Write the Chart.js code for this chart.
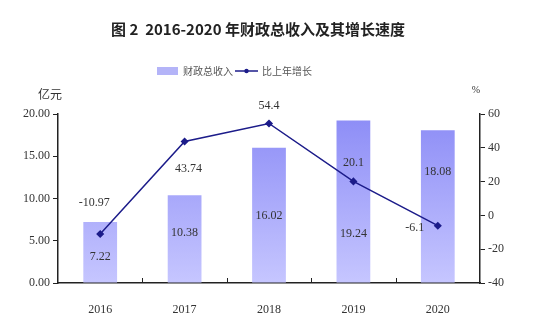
<!DOCTYPE html>
<html lang="zh">
<head>
  <meta charset="UTF-8" />
  <title>财政总收入及其增长速度</title>
  <script src="https://cdn.jsdelivr.net/npm/chart.js"></script>
  <style>
    body { margin: 0; background: #fff; }
    .wrap { position: relative; width: 533px; height: 333px; }
  </style>
</head>
<body>
  <div class="wrap"><canvas id="chart"></canvas></div>

  <script>
    const years = ['2016', '2017', '2018', '2019', '2020'];
    const revenue = [7.22, 10.38, 16.02, 19.24, 18.08];   // 亿元
    const growth = [-10.97, 43.74, 54.4, 20.1, -6.1];     // %

    const numFont = '"Liberation Serif", "DejaVu Serif", serif';
    const cjkFont = '"Noto Sans CJK SC", sans-serif';

    // label offsets (px) so the numbers sit like the original
    const barLabelDy = [35, 38, 68, 113, 42];
    const lineLabelOff = [[-6, -31], [4, 27], [0, -18], [0, -19], [-23, 2]];

    const decor = {
      id: 'decor',
      afterDraw(chart) {
        const c = chart.ctx;
        const area = chart.chartArea;
        c.save();

        // title
        c.fillStyle = '#222';
        c.font = 'bold 15px ' + cjkFont;
        c.textAlign = 'center';
        c.textBaseline = 'middle';
        c.fillText('图 2  2016-2020 年财政总收入及其增长速度', 258, 29);

        // legend
        c.fillStyle = '#b4b4f8';
        c.fillRect(157, 67, 21, 8);
        c.font = '10px ' + cjkFont;
        c.fillStyle = '#555';
        c.textAlign = 'left';
        c.fillText('财政总收入', 183, 71);
        c.strokeStyle = '#1c1c8a';
        c.lineWidth = 1.5;
        c.beginPath(); c.moveTo(235, 71); c.lineTo(258, 71); c.stroke();
        c.fillStyle = '#1c1c8a';
        c.beginPath(); c.arc(246.5, 71, 2.2, 0, Math.PI * 2); c.fill();
        c.fillStyle = '#555';
        c.fillText('比上年增长', 262, 71);

        // axis titles
        c.fillStyle = '#333';
        c.font = '12px ' + cjkFont;
        c.textAlign = 'center';
        c.fillText('亿元', 50, 94);
        c.font = '10px ' + numFont;
        c.fillText('%', 476, 90);

        // small ticks between categories on the x axis
        const x = chart.scales.x;
        c.strokeStyle = '#222';
        c.lineWidth = 1;
        for (let i = 0; i < years.length - 1; i++) {
          const px = Math.round((x.getPixelForTick(i) + x.getPixelForTick(i + 1)) / 2) + 0.5;
          c.beginPath(); c.moveTo(px, area.bottom); c.lineTo(px, area.bottom - 5); c.stroke();
        }

        // data labels
        c.font = '12px ' + numFont;
        c.fillStyle = '#333';
        c.textAlign = 'center';
        const bars = chart.getDatasetMeta(0).data;
        bars.forEach((b, i) => {
          c.fillText(revenue[i].toFixed(2), b.x, b.y + barLabelDy[i]);
        });
        const pts = chart.getDatasetMeta(1).data;
        pts.forEach((p, i) => {
          c.fillText(String(growth[i]), p.x + lineLabelOff[i][0], p.y + lineLabelOff[i][1]);
        });
        c.restore();
      }
    };

    function barGradient(ctx) {
      const area = ctx.chart.chartArea;
      if (!area) return '#aaaafc';
      const g = ctx.chart.ctx.createLinearGradient(0, area.top, 0, area.bottom);
      g.addColorStop(0, '#8c8cf6');
      g.addColorStop(1, '#c6c6ff');
      return g;
    }

    new Chart(document.getElementById('chart'), {
      data: {
        labels: years,
        datasets: [
          {
            type: 'bar',
            label: '财政总收入',
            data: revenue,
            yAxisID: 'y',
            backgroundColor: barGradient,
            categoryPercentage: 1,
            barPercentage: 0.4,
            order: 2
          },
          {
            type: 'line',
            label: '比上年增长',
            data: growth,
            yAxisID: 'y1',
            borderColor: '#1c1c8a',
            backgroundColor: '#1c1c8a',
            borderWidth: 1.5,
            pointStyle: 'rectRot',
            pointRadius: 3,
            tension: 0,
            order: 1
          }
        ]
      },
      options: {
        responsive: true,
        maintainAspectRatio: false,
        animation: false,
        layout: { padding: { top: 114, left: 0, right: 0, bottom: 0 } },
        plugins: {
          legend: { display: false },
          title: { display: false },
          tooltip: { enabled: false }
        },
        scales: {
          x: {
            grid: { display: false },
            border: { color: '#222', width: 1.5 },
            ticks: { color: '#333', font: { family: numFont, size: 12 }, padding: 12 },
            afterFit(s) { s.height = 50; }
          },
          y: {
            position: 'left',
            min: 0, max: 20,
            ticks: {
              stepSize: 5,
              color: '#333',
              font: { family: numFont, size: 12 },
              padding: 3,
              callback: v => v.toFixed(2)
            },
            grid: { drawOnChartArea: false, drawTicks: true, tickLength: 5, color: '#222' },
            border: { color: '#222', width: 1.5 },
            afterFit(s) { s.width = 58; }
          },
          y1: {
            position: 'right',
            min: -40, max: 60,
            ticks: {
              stepSize: 20,
              color: '#333',
              font: { family: numFont, size: 12 },
              padding: 3
            },
            grid: { drawOnChartArea: false, drawTicks: true, tickLength: 5, color: '#222' },
            border: { color: '#222', width: 1.5 },
            afterFit(s) { s.width = 53; }
          }
        }
      },
      plugins: [decor]
    });
  </script>
</body>
</html>
